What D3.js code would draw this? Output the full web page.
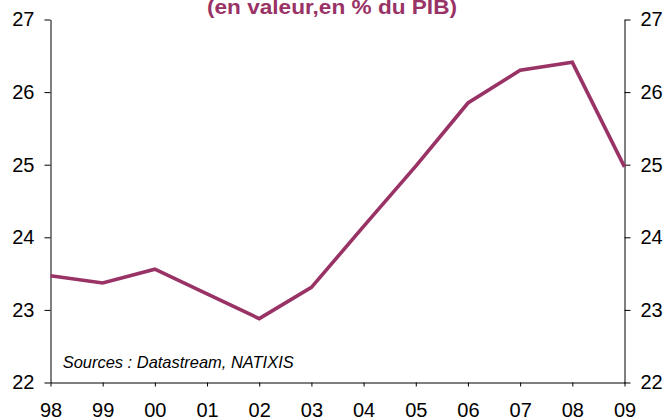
<!DOCTYPE html>
<html>
<head>
<meta charset="utf-8">
<script src="https://cdn.jsdelivr.net/npm/d3@7"></script>
<style>
  html, body { margin: 0; padding: 0; background: #fff; }
  svg { display: block; font-family: "Liberation Sans", Arial, sans-serif; }
</style>
</head>
<body>
<div id="chart"></div>
<script>
// Investissement (en valeur, en % du PIB), 1998-2009
var years = ['98', '99', '00', '01', '02', '03', '04', '05', '06', '07', '08', '09'];
var values = [23.47, 23.37, 23.56, 23.22, 22.88, 23.31, 24.15, 24.98, 25.85, 26.30, 26.41, 24.97];
var yTicks = [22, 23, 24, 25, 26, 27];
var titleText = '(en valeur,en % du PIB)';
var sourceText = 'Sources : Datastream, NATIXIS';

var W = 666, H = 420;
var PLUM = '#993366';

var svg = d3.select('#chart').append('svg').attr('width', W).attr('height', H);

var x = d3.scalePoint().domain(years).range([50.5, 624.5]);
var y = d3.scaleLinear().domain([22, 27]).range([382.5, 19.5]);

function styleAxis(g) {
  g.selectAll('path.domain').attr('stroke', '#000').attr('stroke-width', 1);
  g.selectAll('.tick line').attr('stroke', '#000').attr('stroke-width', 1);
  g.selectAll('.tick text').attr('font-size', 20).attr('fill', '#000')
    .style('font-family', '"Liberation Sans", Arial, sans-serif');
}

// left and right value axes
svg.append('g').attr('transform', 'translate(50.5,0)')
  .call(d3.axisLeft(y).tickValues(yTicks).tickFormat(d3.format('d')).tickSize(6).tickSizeOuter(0).tickPadding(10))
  .call(styleAxis);
svg.append('g').attr('transform', 'translate(624.5,0)')
  .call(d3.axisRight(y).tickValues(yTicks).tickFormat(d3.format('d')).tickSize(6).tickSizeOuter(0).tickPadding(10))
  .call(styleAxis);

// category axis
var xg = svg.append('g').attr('transform', 'translate(0,382.5)')
  .call(d3.axisBottom(x).tickSize(4).tickSizeOuter(0))
  .call(styleAxis);
xg.selectAll('.tick text').attr('y', 34.5).attr('dy', 0);

// series line
svg.append('path').datum(values)
  .attr('fill', 'none').attr('stroke', PLUM).attr('stroke-width', 3.6)
  .attr('d', d3.line().x(function (d, i) { return x(years[i]); }).y(function (d) { return y(d); }));

// title (clipped at top of frame)
svg.append('text').attr('x', 332).attr('y', 13.5).attr('text-anchor', 'middle')
  .attr('font-size', 20).attr('font-weight', 'bold').attr('fill', PLUM)
  .attr('textLength', 250).attr('lengthAdjust', 'spacingAndGlyphs')
  .text(titleText);

// source note
svg.append('text').attr('x', 62.7).attr('y', 367.5)
  .attr('font-size', 17).attr('font-style', 'italic').attr('fill', '#000')
  .attr('textLength', 231).attr('lengthAdjust', 'spacingAndGlyphs')
  .text(sourceText);
</script>
</body>
</html>
